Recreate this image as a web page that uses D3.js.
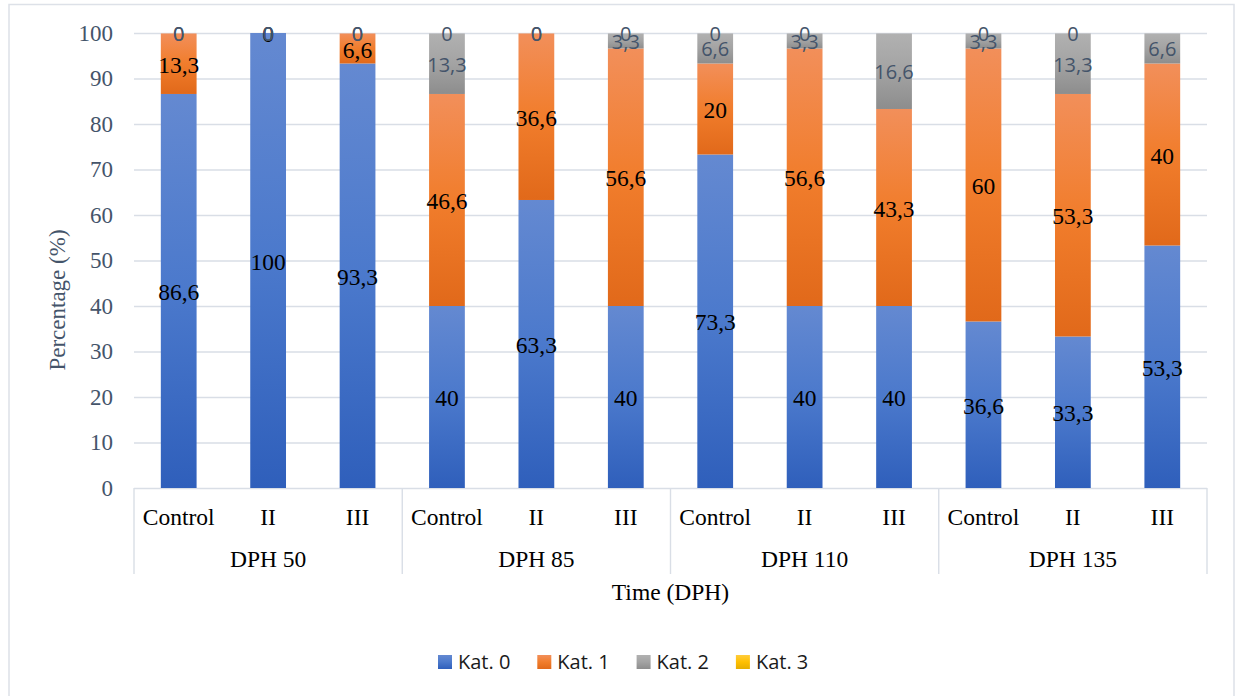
<!DOCTYPE html>
<html>
<head>
<meta charset="utf-8">
<script src="https://cdn.jsdelivr.net/npm/d3@7"></script>
<style>
  html, body { margin: 0; padding: 0; background: #fff; }
  svg { display: block; }
</style>
</head>
<body>
<svg id="chart" width="1236" height="696"></svg>
<script>
// Day-post-hatch groups and treatments within each group
const groups = ["DPH 50", "DPH 85", "DPH 110", "DPH 135"];
const treatments = ["Control", "II", "III"];
const seriesNames = ["Kat. 0", "Kat. 1", "Kat. 2", "Kat. 3"];

// Percentage per category, in order DPH 50 (Control, II, III), DPH 85 ..., DPH 135 ...
const kat0 = [86.6, 100, 93.3, 40, 63.3, 40, 73.3, 40, 40, 36.6, 33.3, 53.3];
const kat1 = [13.3, 0, 6.6, 46.6, 36.6, 56.6, 20, 56.6, 43.3, 60, 53.3, 40];
const kat2 = [0, 0, 0, 13.3, 0, 3.3, 6.6, 3.3, 16.6, 3.3, 13.3, 6.6];
const kat3 = [0, 0, 0, 0, 0, 0, 0, 0, null, 0, 0, null];

const yTicks = [0, 10, 20, 30, 40, 50, 60, 70, 80, 90, 100];

const seriesValues = [kat0, kat1, kat2, kat3];

// Gradient stops (top, middle, bottom) per series
const gradients = [
  ["#6489d1", "#4b79cc", "#2f5fbb"],
  ["#f28f5a", "#f17d2c", "#e1691a"],
  ["#b1b1b1", "#a3a3a3", "#8d8d8d"],
  ["#ffcc3d", "#ffc000", "#e6ae00"]
];
const labelStyle = [
  { font: "Liberation Serif", size: 23.5, color: "#000000" },
  { font: "Liberation Serif", size: 23.5, color: "#000000" },
  { font: "Open Sans", size: 20, color: "#44546a" },
  { font: "Open Sans", size: 20, color: "#44546a" }
];

const svg = d3.select("#chart");
const plotLeft = 134, plotRight = 1207, plotTop = 33, plotBottom = 488;

// Chart frame
svg.append("rect")
  .attr("x", 9).attr("y", 4.5)
  .attr("width", 1225).attr("height", 720)
  .attr("fill", "#ffffff")
  .attr("stroke", "#dde1e8").attr("stroke-width", 1.5);

const defs = svg.append("defs");
gradients.forEach((g, i) => {
  const lg = defs.append("linearGradient")
    .attr("id", "grad" + i)
    .attr("x1", 0).attr("y1", 0).attr("x2", 0).attr("y2", 1);
  lg.append("stop").attr("offset", "0%").attr("stop-color", g[0]);
  lg.append("stop").attr("offset", "50%").attr("stop-color", g[1]);
  lg.append("stop").attr("offset", "100%").attr("stop-color", g[2]);
});

const categories = [];
groups.forEach(g => treatments.forEach(t => categories.push({ group: g, treatment: t, key: g + "|" + t })));

const x = d3.scaleBand()
  .domain(categories.map(d => d.key))
  .range([plotLeft, plotRight])
  .paddingInner(0.6)
  .paddingOuter(0.3);

const xGroup = d3.scaleBand()
  .domain(groups)
  .range([plotLeft, plotRight])
  .padding(0);

const y = d3.scaleLinear().domain([0, 100]).range([plotBottom, plotTop]);

// Horizontal gridlines with value axis labels
const yAxis = svg.append("g")
  .attr("transform", `translate(${plotLeft},0)`)
  .call(d3.axisLeft(y).tickValues(yTicks).tickSize(-(plotRight - plotLeft)).tickPadding(21));
yAxis.select(".domain").remove();
yAxis.selectAll(".tick line").attr("stroke", "#d9dee6").attr("stroke-width", 1.4);
yAxis.selectAll(".tick text")
  .attr("font-family", "Liberation Serif")
  .attr("font-size", 23)
  .attr("fill", "#44546a");

// Stacked data
const rows = categories.map((c, i) => {
  const r = { key: c.key };
  seriesNames.forEach((s, j) => { r[s] = seriesValues[j][i]; });
  return r;
});
const stack = d3.stack().keys(seriesNames).value((d, k) => d[k] == null ? 0 : d[k]);
const stacked = stack(rows);

const barsG = svg.append("g");
stacked.forEach((layer, si) => {
  barsG.selectAll(null)
    .data(layer)
    .join("rect")
    .attr("x", d => x(d.data.key))
    .attr("width", x.bandwidth())
    .attr("y", d => y(d[1]))
    .attr("height", d => Math.max(0, y(d[0]) - y(d[1])))
    .attr("fill", `url(#grad${si})`);
});

// Category axis (treatments)
const xAxis = svg.append("g")
  .attr("transform", `translate(0,${plotBottom})`)
  .call(d3.axisBottom(x).tickSize(0).tickFormat(k => k.split("|")[1]));
xAxis.select(".domain").remove();
xAxis.selectAll(".tick text")
  .attr("y", 37).attr("dy", null)
  .attr("font-family", "Liberation Serif")
  .attr("font-size", 23.5)
  .attr("fill", "#000");

// Group separators
const sepPositions = groups.map(g => xGroup(g)).concat([plotRight]);
svg.append("g").selectAll("line")
  .data(sepPositions)
  .join("line")
  .attr("x1", d => d).attr("x2", d => d)
  .attr("y1", plotBottom).attr("y2", 574)
  .attr("stroke", "#d9dee6").attr("stroke-width", 1.4);

// Group labels
svg.append("g").selectAll("text")
  .data(groups)
  .join("text")
  .attr("x", d => xGroup(d) + xGroup.bandwidth() / 2)
  .attr("y", 567)
  .attr("text-anchor", "middle")
  .attr("font-family", "Liberation Serif")
  .attr("font-size", 23.5)
  .attr("fill", "#000")
  .text(d => d);

// Data labels
const fmt = v => String(v).replace(".", ",");
const labelsG = svg.append("g");
stacked.forEach((layer, si) => {
  const st = labelStyle[si];
  labelsG.selectAll(null)
    .data(layer.filter(d => d.data[seriesNames[si]] != null))
    .join("text")
    .attr("x", d => x(d.data.key) + x.bandwidth() / 2)
    .attr("y", d => y((d[0] + d[1]) / 2) + st.size * 0.35 + 1)
    .attr("text-anchor", "middle")
    .attr("font-family", st.font)
    .attr("font-size", st.size)
    .attr("fill", st.color)
    .text(d => fmt(d.data[seriesNames[si]]));
});

// Axis titles
svg.append("text")
  .attr("transform", "translate(65,300) rotate(-90)")
  .attr("text-anchor", "middle")
  .attr("font-family", "Liberation Serif")
  .attr("font-size", 23)
  .attr("fill", "#44546a")
  .text("Percentage (%)");

svg.append("text")
  .attr("x", (plotLeft + plotRight) / 2)
  .attr("y", 600)
  .attr("text-anchor", "middle")
  .attr("font-family", "Liberation Serif")
  .attr("font-size", 23.5)
  .attr("fill", "#000")
  .text("Time (DPH)");

// Legend
const legend = svg.append("g").attr("transform", "translate(438,655)");
const item = legend.selectAll("g")
  .data(seriesNames)
  .join("g")
  .attr("transform", (d, i) => `translate(${i * 99.3},0)`);
item.append("rect")
  .attr("width", 14).attr("height", 14)
  .attr("fill", (d, i) => `url(#grad${i})`);
item.append("text")
  .attr("x", 20).attr("y", 14)
  .attr("font-family", "Open Sans")
  .attr("font-size", 20)
  .attr("fill", "#1a1a1a")
  .text(d => d);
</script>
</body>
</html>
